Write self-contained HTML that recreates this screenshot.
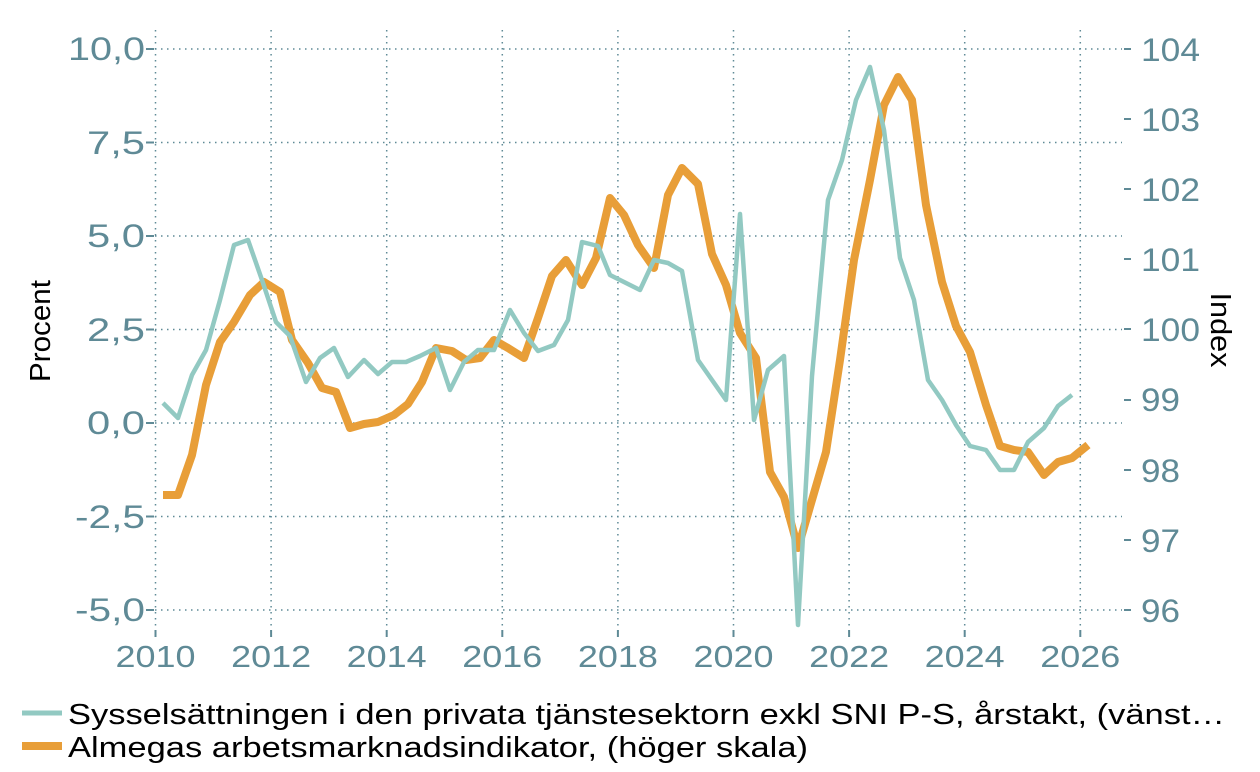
<!DOCTYPE html>
<html><head><meta charset="utf-8"><style>
html,body{margin:0;padding:0;background:#fff;}
svg{display:block;font-family:"Liberation Sans",Arial,sans-serif;}
</style></head><body>
<svg width="1260" height="772" viewBox="0 0 1260 772">
<g stroke="#5f8a96" stroke-width="1.5" stroke-dasharray="1.5,4.5" fill="none">
<line x1="155" y1="49" x2="1122" y2="49"/>
<line x1="155" y1="142.5" x2="1122" y2="142.5"/>
<line x1="155" y1="236" x2="1122" y2="236"/>
<line x1="155" y1="329.5" x2="1122" y2="329.5"/>
<line x1="155" y1="423" x2="1122" y2="423"/>
<line x1="155" y1="516.5" x2="1122" y2="516.5"/>
<line x1="155" y1="610" x2="1122" y2="610"/>
<line x1="155.5" y1="30" x2="155.5" y2="632"/>
<line x1="271.1" y1="30" x2="271.1" y2="632"/>
<line x1="386.7" y1="30" x2="386.7" y2="632"/>
<line x1="502.3" y1="30" x2="502.3" y2="632"/>
<line x1="617.9" y1="30" x2="617.9" y2="632"/>
<line x1="733.5" y1="30" x2="733.5" y2="632"/>
<line x1="849.1" y1="30" x2="849.1" y2="632"/>
<line x1="964.7" y1="30" x2="964.7" y2="632"/>
<line x1="1080.3" y1="30" x2="1080.3" y2="632"/>
</g>
<g stroke="#5f8a96" stroke-width="2">
<line x1="146" y1="49" x2="154" y2="49"/><line x1="146" y1="142.5" x2="154" y2="142.5"/>
<line x1="146" y1="236" x2="154" y2="236"/><line x1="146" y1="329.5" x2="154" y2="329.5"/>
<line x1="146" y1="423" x2="154" y2="423"/><line x1="146" y1="516.5" x2="154" y2="516.5"/>
<line x1="146" y1="610" x2="154" y2="610"/>
<line x1="1124" y1="49" x2="1131" y2="49"/><line x1="1124" y1="119" x2="1131" y2="119"/>
<line x1="1124" y1="189" x2="1131" y2="189"/><line x1="1124" y1="259" x2="1131" y2="259"/>
<line x1="1124" y1="329" x2="1131" y2="329"/><line x1="1124" y1="400" x2="1131" y2="400"/>
<line x1="1124" y1="470" x2="1131" y2="470"/><line x1="1124" y1="540" x2="1131" y2="540"/>
<line x1="1124" y1="610" x2="1131" y2="610"/>
<line x1="155.5" y1="630" x2="155.5" y2="637"/><line x1="271.1" y1="630" x2="271.1" y2="637"/>
<line x1="386.7" y1="630" x2="386.7" y2="637"/><line x1="502.3" y1="630" x2="502.3" y2="637"/>
<line x1="617.9" y1="630" x2="617.9" y2="637"/><line x1="733.5" y1="630" x2="733.5" y2="637"/>
<line x1="849.1" y1="630" x2="849.1" y2="637"/><line x1="964.7" y1="630" x2="964.7" y2="637"/>
<line x1="1080.3" y1="630" x2="1080.3" y2="637"/>
</g>
<g fill="#5f8a96" font-size="32" text-anchor="end">
<text x="145" y="60" textLength="77" lengthAdjust="spacingAndGlyphs">10,0</text>
<text x="145" y="154" textLength="58" lengthAdjust="spacingAndGlyphs">7,5</text>
<text x="145" y="247" textLength="58" lengthAdjust="spacingAndGlyphs">5,0</text>
<text x="145" y="341" textLength="58" lengthAdjust="spacingAndGlyphs">2,5</text>
<text x="145" y="434" textLength="58" lengthAdjust="spacingAndGlyphs">0,0</text>
<text x="145" y="528" textLength="70" lengthAdjust="spacingAndGlyphs">-2,5</text>
<text x="145" y="621" textLength="70" lengthAdjust="spacingAndGlyphs">-5,0</text>
</g>
<g fill="#5f8a96" font-size="32" text-anchor="start">
<text x="1141" y="61" textLength="59" lengthAdjust="spacingAndGlyphs">104</text>
<text x="1141" y="131" textLength="59" lengthAdjust="spacingAndGlyphs">103</text>
<text x="1141" y="201" textLength="59" lengthAdjust="spacingAndGlyphs">102</text>
<text x="1141" y="271" textLength="59" lengthAdjust="spacingAndGlyphs">101</text>
<text x="1141" y="341" textLength="59" lengthAdjust="spacingAndGlyphs">100</text>
<text x="1141" y="411" textLength="39" lengthAdjust="spacingAndGlyphs">99</text>
<text x="1141" y="482" textLength="39" lengthAdjust="spacingAndGlyphs">98</text>
<text x="1141" y="552" textLength="39" lengthAdjust="spacingAndGlyphs">97</text>
<text x="1141" y="622" textLength="39" lengthAdjust="spacingAndGlyphs">96</text>
</g>
<g fill="#5f8a96" font-size="31" text-anchor="middle">
<text x="155.5" y="667" textLength="80" lengthAdjust="spacingAndGlyphs">2010</text>
<text x="271.1" y="667" textLength="80" lengthAdjust="spacingAndGlyphs">2012</text>
<text x="386.7" y="667" textLength="80" lengthAdjust="spacingAndGlyphs">2014</text>
<text x="502.3" y="667" textLength="80" lengthAdjust="spacingAndGlyphs">2016</text>
<text x="617.9" y="667" textLength="80" lengthAdjust="spacingAndGlyphs">2018</text>
<text x="733.5" y="667" textLength="80" lengthAdjust="spacingAndGlyphs">2020</text>
<text x="849.1" y="667" textLength="80" lengthAdjust="spacingAndGlyphs">2022</text>
<text x="964.7" y="667" textLength="80" lengthAdjust="spacingAndGlyphs">2024</text>
<text x="1080.3" y="667" textLength="80" lengthAdjust="spacingAndGlyphs">2026</text>
</g>
<text transform="translate(50,331) rotate(-90)" font-size="29" text-anchor="middle" fill="#000" textLength="102" lengthAdjust="spacingAndGlyphs">Procent</text>
<text transform="translate(1211,330) rotate(90)" font-size="29" text-anchor="middle" fill="#000" textLength="75" lengthAdjust="spacingAndGlyphs">Index</text>
<polyline fill="none" stroke="#e89e38" stroke-width="8" stroke-linejoin="round" points="163,495 178,495 192,455 206,385 220,342 234,322 250,295 264,282 280,292 292,340 308,363 322,388 336,392 350,428 364,424 378,422 394,415 408,404 422,382 436,348 452,351 466,360 480,358 494,340 508,348 524,358 538,318 552,276 566,260 582,285 596,258 610,198 624,215 638,245 654,268 668,195 682,168 698,184 712,254 726,285 740,333 756,358 770,472 784,497 798,548 812,500 826,452 840,360 854,260 870,180 884,105 898,77 912,100 926,205 942,282 956,326 970,352 986,405 1000,446 1014,450 1028,452 1044,475 1058,462 1072,458 1088,445"/>
<polyline fill="none" stroke="#92c9c2" stroke-width="4.5" stroke-linejoin="round" points="163,403 178,418 192,375 206,350 220,300 234,245 248,240 262,280 276,322 290,336 306,382 320,358 334,348 348,377 364,360 378,374 392,362 406,362 420,356 436,348 450,390 464,362 478,350 494,350 510,310 524,333 538,351 554,345 568,320 582,242 598,246 610,275 626,283 640,290 654,260 668,263 682,271 698,360 712,380 726,400 740,214 754,420 768,370 784,356 798,625 812,376 828,200 842,160 856,100 870,67 884,130 900,258 914,300 928,380 942,400 956,425 970,446 986,450 1000,470 1014,470 1028,442 1044,428 1058,406 1072,395"/>
<line x1="22" y1="713" x2="62" y2="713" stroke="#92c9c2" stroke-width="5"/>
<line x1="22" y1="746" x2="62" y2="746" stroke="#e89e38" stroke-width="8"/>
<text x="68" y="724" font-size="29" fill="#000" textLength="1157" lengthAdjust="spacingAndGlyphs">Sysselsättningen i den privata tjänstesektorn exkl SNI P-S, årstakt, (vänst…</text>
<text x="68" y="757" font-size="29" fill="#000" textLength="740" lengthAdjust="spacingAndGlyphs">Almegas arbetsmarknadsindikator, (höger skala)</text>
</svg>
</body></html>
